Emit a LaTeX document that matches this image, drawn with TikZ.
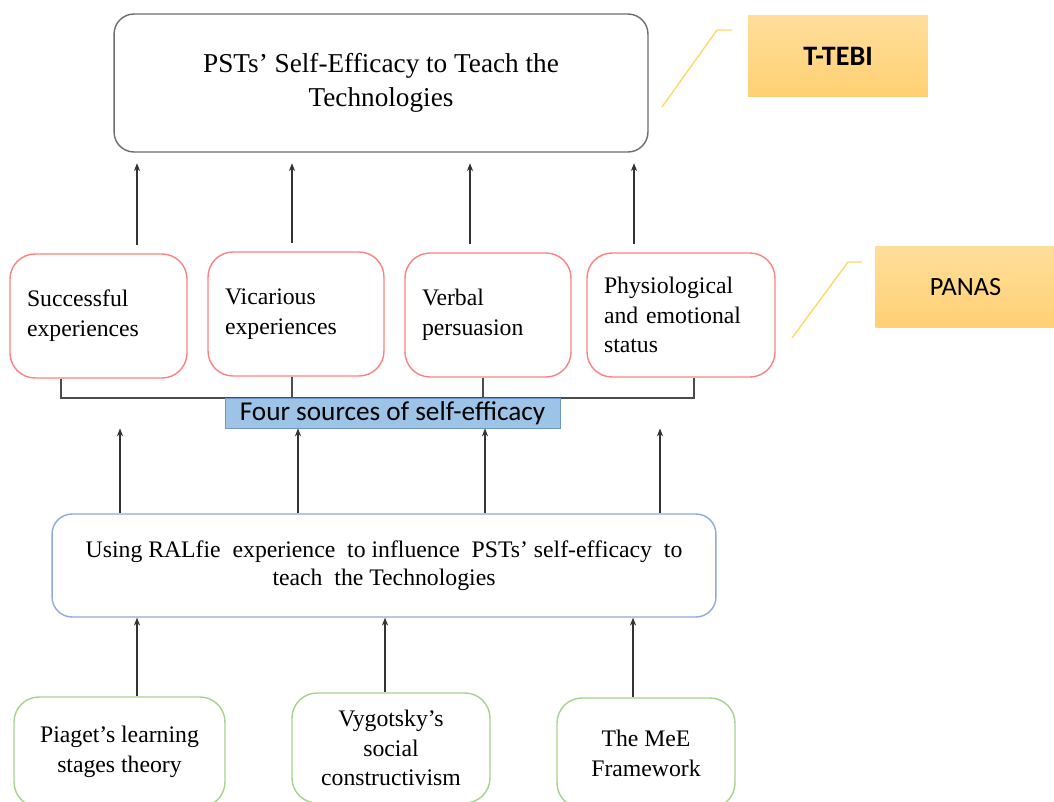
\documentclass[tikz,border=0pt]{standalone}
\usepackage{fontspec}
\setmainfont{Liberation Serif}
\newfontfamily\calibri{Carlito}
\usetikzlibrary{arrows.meta,positioning}

\definecolor{boxgray}{RGB}{110,110,110}
\definecolor{boxred}{RGB}{255,128,130}
\definecolor{boxblue}{RGB}{143,170,220}
\definecolor{boxgreen}{RGB}{169,209,142}
\definecolor{labelblue}{RGB}{157,195,230}
\definecolor{labeledge}{RGB}{110,150,200}
\definecolor{calloutline}{RGB}{255,217,102}
\definecolor{tagtop}{RGB}{255,222,155}
\definecolor{tagbot}{RGB}{255,208,115}

\begin{document}
\begin{tikzpicture}[x=0.02cm, y=-0.02cm,
		mainbox/.style={rectangle, draw=boxgray, line width=0.8pt, rounded corners=0.4cm, align=center,
			minimum width=10.68cm, minimum height=2.76cm, font=\fontsize{15.5}{19}\selectfont},
		source/.style={rectangle, draw=boxred, line width=0.8pt, rounded corners=0.5cm, align=left,
			inner xsep=0.34cm, minimum height=2.48cm, font=\fontsize{13.5}{17}\selectfont},
		theory/.style={rectangle, draw=boxgreen, line width=0.8pt, rounded corners=0.5cm, align=center,
			minimum height=2.2cm, font=\fontsize{13.5}{17}\selectfont},
		tag/.style={rectangle, top color=tagtop, bottom color=tagbot, draw=none,
			minimum width=3.6cm, minimum height=1.64cm, font=\calibri\fontsize{15}{18}\selectfont},
		callout/.style={draw=calloutline, line width=0.8pt},
		bracket/.style={draw=black!70, line width=0.8pt},
		arrow/.style={-{Stealth[length=4.5pt,width=3.5pt]}, draw=black!80, line width=0.6pt}
	]
	\fill[white] (0,0) rectangle (1054,801);
	\useasboundingbox (0,0) rectangle (1054,801);

	% outcome
	\node (pst) [mainbox] at (381,83) {PSTs' Self-Efficacy to Teach the\\Technologies};
	\node (ttebi) [tag, font=\calibri\bfseries\fontsize{16}{18}\selectfont] at (838,56) {T-TEBI};
	\draw [callout] (662,107) -- (717,30) -- ++(15,0);

	% four sources
	\node (succ) [source, text width=2.86cm] at (98.5,316) {Successful\\experiences};
	\node (vica) [source, text width=2.84cm] at (296,314) {Vicarious\\experiences};
	\node (verb) [source, text width=2.64cm] at (488,315) {Verbal\\persuasion};
	\node (phys) [source, text width=3.08cm] at (681,315) {Physiological\\and emotional\\status};
	\node (panas) [tag] at (965.5,287) {PANAS};
	\draw [callout] (792,338) -- (848,262) -- ++(14,0);

	\draw [arrow, shorten <=5pt, shorten >=6pt] (succ.north -| 137,0) -- (pst.south -| 137,0);
	\draw [arrow, shorten <=5pt, shorten >=6pt] (vica.north -| 292,0) -- (pst.south -| 292,0);
	\draw [arrow, shorten <=5pt, shorten >=6pt] (verb.north -| 470,0) -- (pst.south -| 470,0);
	\draw [arrow, shorten <=5pt, shorten >=6pt] (phys.north -| 634,0) -- (pst.south -| 634,0);

	% bracket
	\coordinate (bl) at (61,398);
	\coordinate (br) at (694,398);
	\draw [bracket] (succ.south -| bl) -- (bl) -- (br) -- (phys.south -| br);
	\draw [bracket] (vica.south -| 292,0) -- (292,398);
	\draw [bracket] (verb.south -| 483,0) -- (483,398);
	\node (four) [rectangle, fill=labelblue, draw=labeledge, line width=0.5pt, minimum width=6.7cm,
		minimum height=0.6cm, inner sep=0pt, font=\calibri\fontsize{15.5}{18}\selectfont] at (392.5,413) {Four sources of self-efficacy};

	% RALfie
	\node (ralfie) [rectangle, draw=boxblue, line width=0.8pt, rounded corners=0.4cm, align=center,
		minimum width=13.28cm, minimum height=2.06cm, font=\fontsize{13.5}{16}\selectfont] at (384,565.5)
		{Using RALfie\ \ experience\ \ to influence\ \ PSTs' self-efficacy\ \ to\\teach\ \ the Technologies};

	\draw [arrow] (ralfie.north -| 120,0) -- (four.south -| 120,0);
	\draw [arrow] (ralfie.north -| 298,0) -- (four.south -| 298,0);
	\draw [arrow] (ralfie.north -| 485,0) -- (four.south -| 485,0);
	\draw [arrow] (ralfie.north -| 660,0) -- (four.south -| 660,0);

	% theories
	\node (piaget) [theory, minimum width=4.22cm] at (119.5,752) {Piaget's learning\\stages theory};
	\node (vygot) [theory, minimum width=3.96cm] at (391,748) {Vygotsky's\\social\\constructivism};
	\node (mee) [theory, minimum width=3.56cm] at (646,753) {The MeE\\Framework};

	\draw [arrow] (piaget.north -| 137,0) -- (ralfie.south -| 137,0);
	\draw [arrow] (vygot.north -| 385,0) -- (ralfie.south -| 385,0);
	\draw [arrow] (mee.north -| 633,0) -- (ralfie.south -| 633,0);

\end{tikzpicture}
\end{document}
